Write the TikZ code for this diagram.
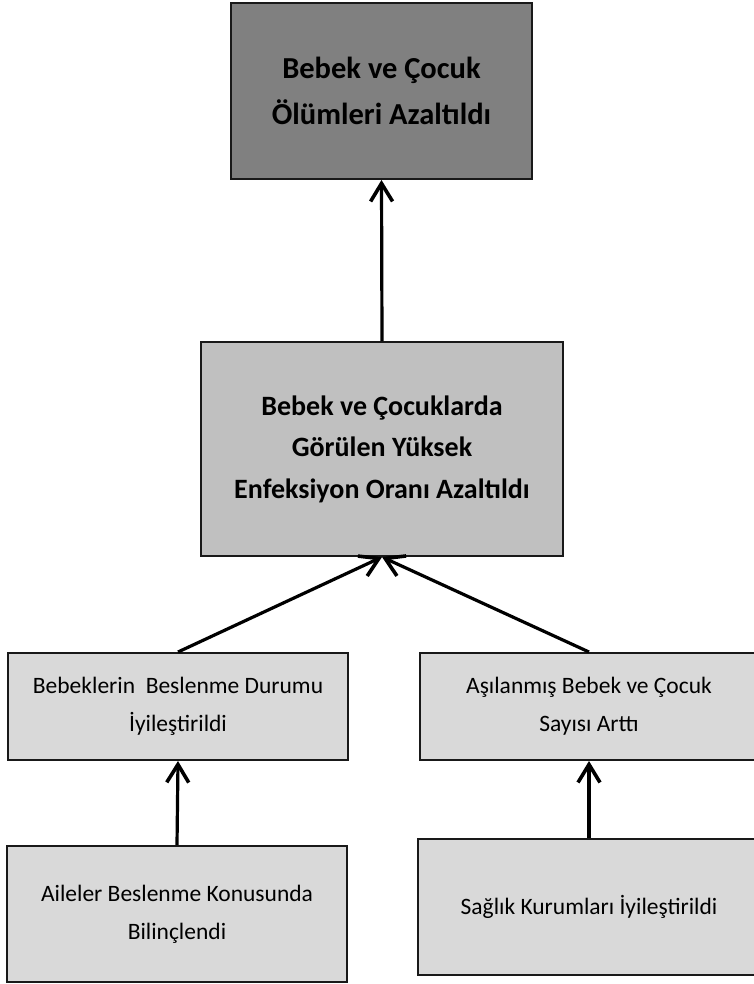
\documentclass[tikz,border=0pt]{standalone}
\usepackage{fontspec}
\setmainfont{Carlito}
\usetikzlibrary{arrows.meta}

\definecolor{topgray}{RGB}{128,128,128}
\definecolor{midgray}{RGB}{192,192,192}
\definecolor{lowgray}{RGB}{217,217,217}

\begin{document}
\begin{tikzpicture}[x=1pt, y=-1pt, semithick,
    >={Straight Barb[length=18pt, width=22pt, line width=3.6pt]},
    box/.style={draw=black!90, line width=2pt, inner sep=0pt, align=center},
    bigtext/.style={font={\fontsize{30.5pt}{46pt}\selectfont\bfseries}},
    midtext/.style={font={\fontsize{28pt}{41.5pt}\selectfont\bfseries}},
    lowtext/.style={font={\fontsize{23.5pt}{38pt}\selectfont}},
    link/.style={->, line width=3.2pt}]

    % page frame
    \useasboundingbox (0,0) rectangle (753,984);

    % top goal
    \node[box, bigtext, fill=topgray, minimum width=301pt, minimum height=176pt]
        (olum) at (381.5,91) {Bebek ve Çocuk\\Ölümleri Azaltıldı};

    % middle box
    \node[box, midtext, fill=midgray, minimum width=362pt, minimum height=214pt]
        (enfeksiyon) at (382,449)
        {Bebek ve Çocuklarda\\Görülen Yüksek\\Enfeksiyon Oranı Azaltıldı};

    % second row
    \node[box, lowtext, fill=lowgray, minimum width=340pt, minimum height=107pt]
        (beslenme) at (178,706.5) {Bebeklerin\ \ Beslenme Durumu\\İyileştirildi};
    \node[box, lowtext, fill=lowgray, minimum width=338pt, minimum height=107pt]
        (asi) at (589,706.5) {Aşılanmış Bebek ve Çocuk\\Sayısı Arttı};

    % bottom row
    \node[box, lowtext, fill=lowgray, minimum width=340pt, minimum height=136pt]
        (aile) at (177,914) {Aileler Beslenme Konusunda\\Bilinçlendi};
    \node[box, lowtext, fill=lowgray, minimum width=342pt, minimum height=136pt]
        (saglik) at (589,907) {Sağlık Kurumları İyileştirildi};

    % arrows
    \draw[link] (enfeksiyon.north) -- (olum.south);
    \draw[link] (beslenme.north) -- (enfeksiyon.south);
    \draw[link] (asi.north) -- (enfeksiyon.south);
    \draw[link] (aile.north) -- (beslenme.south);
    \draw[link] (saglik.north) -- (asi.south);
\end{tikzpicture}
\end{document}
